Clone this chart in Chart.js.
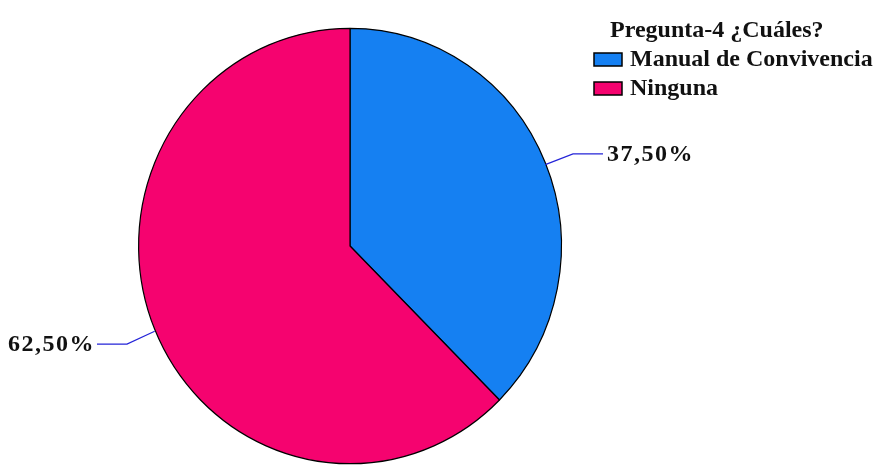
<!DOCTYPE html>
<html>
<head>
<meta charset="utf-8">
<script src="https://cdn.jsdelivr.net/npm/chart.js@4.4.1/dist/chart.umd.min.js"></script>
<style>
html,body{margin:0;padding:0;background:#fff;}
#wrap{position:relative;width:884px;height:468px;}
</style>
</head>
<body>
<div id="wrap"><canvas id="c" width="884" height="468"></canvas></div>
<script>
const legendTitle = 'Pregunta-4 ¿Cuáles?';
const categories = ['Manual de Convivencia', 'Ninguna'];
const values = [37.5, 62.5];
const colors = ['#1580f2', '#f5036f'];

const SY = 1.03;
const FONT = 'bold 24px "Liberation Serif", "Times New Roman", serif';

function fmt(v){ return v.toFixed(2).replace('.', ',') + '%'; }

const ellipse = {
  id: 'ellipse',
  beforeDatasetsDraw(chart){
    const a = chart.getDatasetMeta(0).data[0];
    const ctx = chart.ctx;
    ctx.save();
    ctx.translate(a.x, a.y);
    ctx.scale(1, SY);
    ctx.translate(-a.x, -a.y);
  },
  afterDatasetsDraw(chart){
    chart.ctx.restore();
  }
};

const labelsPlugin = {
  id: 'labelsPlugin',
  afterDraw(chart){
    const ctx = chart.ctx;
    const meta = chart.getDatasetMeta(0);
    ctx.save();
    meta.data.forEach((arc, i) => {
      const p = arc.getProps(['x','y','startAngle','endAngle','outerRadius'], true);
      const mid = (p.startAngle + p.endAngle) / 2;
      const cx = Math.cos(mid), cy = Math.sin(mid);
      const ex = p.x + cx * p.outerRadius, ey = p.y + cy * p.outerRadius * SY;
      const r2 = p.outerRadius + 30;
      const bx = p.x + cx * r2, by = p.y + cy * r2 * SY + 3;
      const right = cx >= 0;
      const hx = bx + (right ? 30 : -30);
      ctx.strokeStyle = '#2424d8';
      ctx.lineWidth = 1.2;
      ctx.beginPath();
      ctx.moveTo(ex, ey + 2);
      ctx.lineTo(bx, by);
      ctx.lineTo(hx, by);
      ctx.stroke();
      ctx.fillStyle = '#111';
      ctx.font = FONT;
      ctx.letterSpacing = '1.5px';
      ctx.textBaseline = 'middle';
      ctx.textAlign = right ? 'left' : 'right';
      ctx.fillText(fmt(values[i]), hx + (right ? 4 : -2), by + 1);
      ctx.letterSpacing = '0px';
    });
    // legend
    ctx.font = FONT;
    ctx.textAlign = 'left';
    ctx.textBaseline = 'alphabetic';
    ctx.fillStyle = '#111';
    ctx.fillText(legendTitle, 610, 37);
    categories.forEach((c, i) => {
      const y = 66 + i * 29;
      ctx.fillStyle = colors[i];
      ctx.fillRect(594, y - 13, 28, 13);
      ctx.strokeStyle = '#000';
      ctx.lineWidth = 1.5;
      ctx.strokeRect(594, y - 13, 28, 13);
      ctx.fillStyle = '#111';
      ctx.fillText(c, 630, y);
    });
    ctx.restore();
  }
};

new Chart(document.getElementById('c'), {
  type: 'pie',
  data: {
    labels: categories,
    datasets: [{
      data: values,
      backgroundColor: colors,
      borderColor: '#000',
      borderWidth: 1.2
    }]
  },
  options: {
    responsive: false,
    animation: false,
    layout: { padding: { left: 138, right: 322, top: 34, bottom: 10 } },
    plugins: { legend: { display: false }, tooltip: { enabled: false } }
  },
  plugins: [ellipse, labelsPlugin]
});
</script>
</body>
</html>
